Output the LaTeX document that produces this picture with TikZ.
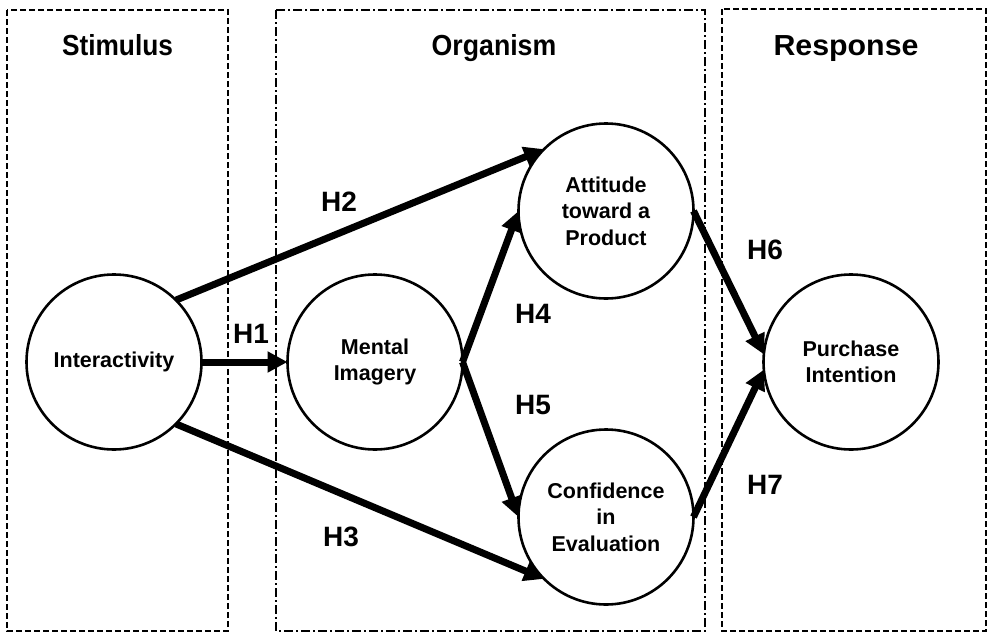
\documentclass[tikz,border=0pt]{standalone}
\usepackage{fontspec}
\setmainfont{Liberation Sans}
\usetikzlibrary{arrows.meta}
\begin{document}
\begin{tikzpicture}[x=1pt,y=-1pt,
  construct/.style={circle, draw, line width=2.6pt, minimum size=175pt, inner sep=0pt, outer sep=0pt, align=center, font=\bfseries\fontsize{21.5}{26.5}\selectfont},
  regionbox/.style={line width=1.6pt, dash pattern=on 6pt off 3pt},
  regiondd/.style={line width=1.6pt, dash pattern=on 9pt off 3pt on 2pt off 3pt},
  heading/.style={anchor=base, font=\bfseries\fontsize{29}{32}\selectfont},
  hyp/.style={font=\bfseries\fontsize{28}{32}\selectfont},
  link/.style={line width=7pt, -{Triangle[length=20pt,width=20pt]}}
]
\useasboundingbox (0,0) rectangle (988,632);
% regions
\draw[regionbox] (7,10) rectangle (228,631);
\draw[regiondd] (276,10) rectangle (705,631);
\draw[regionbox] (722,9) rectangle (986,631);
\node[heading] (hS) at (117.5,55) {\scalebox{0.906}[1]{Stimulus}};
\node[heading] (hO) at (494,55) {\scalebox{0.92}[1]{Organism}};
\node[heading] (hR) at (846,55) {\scalebox{1.046}[1]{Response}};
% constructs
\node[construct] (Int) at (114,362) {Interactivity};
\node[construct] (MI) at (375,362) {Mental\\Imagery};
\node[construct] (Att) at (606,211) {Attitude\\toward a\\Product};
\node[construct] (Conf) at (606,517) {Confidence\\in\\Evaluation};
\node[construct] (Pur) at (851,362) {Purchase\\Intention};
% links
\draw[link] (Int.east) -- (MI.west);
\draw[link] (Int.45) -- (Att.135);
\draw[link] (Int.-45) -- (Conf.225);
\draw[link] (MI.east) -- (Att.west);
\draw[link] (MI.east) -- (Conf.west);
\draw[link] (Att.east) -- (Pur.175);
\draw[link] (Conf.east) -- (Pur.185);
% hypothesis labels
\node[hyp] (H1) at (251,334) {H1};
\node[hyp] (H2) at (339,202) {H2};
\node[hyp] (H3) at (341,537) {H3};
\node[hyp] (H4) at (533,314) {H4};
\node[hyp] (H5) at (533,405) {H5};
\node[hyp] (H6) at (765,250) {H6};
\node[hyp] (H7) at (765,485) {H7};
\end{tikzpicture}
\end{document}
